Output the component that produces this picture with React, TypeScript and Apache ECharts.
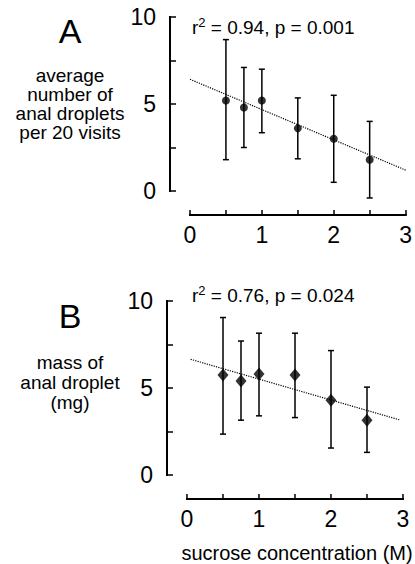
import React, { useEffect, useRef } from "react";
import * as echarts from "echarts";

const FONT = "'Liberation Sans', Arial, Helvetica, sans-serif";

// Panel A: average number of anal droplets per 20 visits
const concA = [0.5, 0.75, 1, 1.5, 2, 2.5];
const meanA = [5.2, 4.8, 5.2, 3.6, 3.0, 1.8];
const lowA = [1.8, 2.5, 3.35, 1.85, 0.5, -0.4];
const highA = [8.7, 7.1, 7.0, 5.35, 5.5, 4.0];
const trendAX = [0, 3];
const trendAY = [6.42, 1.2];

// Panel B: mass of anal droplet (mg)
const concB = [0.5, 0.75, 1, 1.5, 2, 2.5];
const meanB = [5.75, 5.4, 5.8, 5.75, 4.3, 3.15];
const lowB = [2.35, 3.15, 3.4, 3.3, 1.55, 1.3];
const highB = [9.05, 7.7, 8.15, 8.15, 7.15, 5.05];
const trendBX = [0.05, 2.95];
const trendBY = [6.65, 3.17];

const yTicks = [0, 5, 10];
const xTicks = [0, 1, 2, 3];

const labelA = ["average", "number of", "anal droplets", "per 20 visits"];
const labelB = ["mass of", "anal droplet", "(mg)"];

const X_OFFSET = 24;
const Y_OFFSET = 20;

function errSeries(xs: number[], lo: number[], hi: number[], gi: number) {
  return {
    type: "custom",
    xAxisIndex: gi,
    yAxisIndex: gi,
    clip: false,
    z: 2,
    data: xs.map((x, i) => [x, lo[i], hi[i]]),
    renderItem: (_p: any, api: any) => {
      const x = api.value(0);
      const top = api.coord([x, api.value(2)]);
      const bot = api.coord([x, api.value(1)]);
      const st = { stroke: "#000", lineWidth: 1.5 };
      const cw = 3;
      return {
        type: "group",
        children: [
          { type: "line", shape: { x1: top[0], y1: top[1], x2: bot[0], y2: bot[1] }, style: st },
          { type: "line", shape: { x1: top[0] - cw, y1: top[1], x2: top[0] + cw, y2: top[1] }, style: st },
          { type: "line", shape: { x1: bot[0] - cw, y1: bot[1], x2: bot[0] + cw, y2: bot[1] }, style: st },
        ],
      };
    },
  };
}

function xAxis(gi: number) {
  return {
    type: "value",
    gridIndex: gi,
    min: 0,
    max: 3,
    interval: 0.5,
    offset: X_OFFSET,
    axisLine: { show: true, onZero: false, lineStyle: { color: "#000", width: 2 } },
    axisTick: { show: true, inside: true, length: 5, lineStyle: { color: "#000", width: 1.5 } },
    splitLine: { show: false },
    axisLabel: {
      margin: 8,
      fontSize: 23,
      color: "#000",
      fontFamily: FONT,
      formatter: (v: number) => (xTicks.includes(v) ? String(v) : ""),
    },
  };
}

function yAxis(gi: number) {
  return {
    type: "value",
    gridIndex: gi,
    min: 0,
    max: 10,
    interval: 2.5,
    offset: Y_OFFSET,
    axisLine: { show: true, onZero: false, lineStyle: { color: "#000", width: 2 } },
    axisTick: { show: true, inside: true, length: 6, lineStyle: { color: "#000", width: 1.5 } },
    splitLine: { show: false },
    axisLabel: {
      margin: 14,
      fontSize: 23,
      color: "#000",
      fontFamily: FONT,
      formatter: (v: number) => (yTicks.includes(v) ? String(v) : ""),
    },
  };
}

function statText(txt: string, x: number, y: number) {
  return {
    type: "text",
    x,
    y,
    style: {
      text: "{a|r}{s|2}{a| = " + txt + "}",
      textVerticalAlign: "middle",
      textAlign: "left",
      fill: "#000",
      rich: {
        a: { fontSize: 19, fontFamily: FONT, color: "#000", lineHeight: 22 },
        s: { fontSize: 13, fontFamily: FONT, color: "#000", verticalAlign: "top", lineHeight: 20 },
      },
    },
  };
}

function lines(arr: string[], cx: number, y0: number, step: number) {
  return arr.map((t, i) => ({
    type: "text",
    x: cx,
    y: y0 + i * step,
    style: {
      text: t,
      font: `19px ${FONT}`,
      fill: "#000",
      textAlign: "center",
      textVerticalAlign: "middle",
    },
  }));
}

function axisRects(chart: any, gi: number) {
  const p0 = chart.convertToPixel({ gridIndex: gi }, [0, 0]);
  const pTop = chart.convertToPixel({ gridIndex: gi }, [0, 10]);
  const pRight = chart.convertToPixel({ gridIndex: gi }, [3, 0]);
  const yx = Math.round(p0[0] - Y_OFFSET);
  const xy = Math.round(p0[1] + X_OFFSET);
  const st = { fill: "#000" };
  return [
    { type: "rect", z: 100, shape: { x: yx - 1, y: pTop[1] - 1, width: 2, height: p0[1] - pTop[1] + 2 }, style: st },
    { type: "rect", z: 100, shape: { x: p0[0] - 1, y: xy - 1, width: pRight[0] - p0[0] + 2, height: 2 }, style: st },
  ];
}

export default function App() {
  const ref = useRef<HTMLDivElement>(null);
  useEffect(() => {
    if (!ref.current) return;
    const chart = echarts.init(ref.current, undefined, { renderer: "svg" });
    chart.setOption({
      animation: false,
      grid: [
        { left: 190, top: 17, width: 216, height: 174 },
        { left: 187, top: 301, width: 216, height: 174 },
      ],
      xAxis: [xAxis(0), xAxis(1)],
      yAxis: [yAxis(0), yAxis(1)],
      series: [
        {
          type: "line",
          xAxisIndex: 0,
          yAxisIndex: 0,
          data: trendAX.map((x, i) => [x, trendAY[i]]),
          showSymbol: false,
          symbol: "none",
          lineStyle: { color: "#000", width: 1.2, type: "dotted" },
          z: 1,
        },
        errSeries(concA, lowA, highA, 0),
        {
          type: "scatter",
          xAxisIndex: 0,
          yAxisIndex: 0,
          symbol: "circle",
          symbolSize: 8,
          itemStyle: { color: "#000" },
          data: concA.map((x, i) => [x, meanA[i]]),
          z: 3,
        },
        {
          type: "line",
          xAxisIndex: 1,
          yAxisIndex: 1,
          data: trendBX.map((x, i) => [x, trendBY[i]]),
          showSymbol: false,
          symbol: "none",
          lineStyle: { color: "#000", width: 1.2, type: "dotted" },
          z: 1,
        },
        errSeries(concB, lowB, highB, 1),
        {
          type: "scatter",
          xAxisIndex: 1,
          yAxisIndex: 1,
          symbol: "diamond",
          symbolSize: [11, 13],
          itemStyle: { color: "#000" },
          data: concB.map((x, i) => [x, meanB[i]]),
          z: 3,
        },
      ],
    });
    chart.setOption({
      graphic: [
        { type: "text", x: 70, y: 31, style: { text: "A", font: `34px ${FONT}`, fill: "#000", textAlign: "center", textVerticalAlign: "middle" } },
        ...lines(labelA, 70, 75, 19),
        statText("0.94, p = 0.001", 192, 27),
        { type: "text", x: 70, y: 316, style: { text: "B", font: `34px ${FONT}`, fill: "#000", textAlign: "center", textVerticalAlign: "middle" } },
        ...lines(labelB, 70, 362, 20),
        statText("0.76, p = 0.024", 192, 295),
        {
          type: "text",
          x: 297,
          y: 553,
          style: {
            text: "sucrose concentration (M)",
            font: `20px ${FONT}`,
            fill: "#000",
            textAlign: "center",
            textVerticalAlign: "middle",
          },
        },
        ...axisRects(chart, 0),
        ...axisRects(chart, 1),
      ],
    });
    return () => chart.dispose();
  }, []);
  return (
    <div
      ref={ref}
      style={{ position: "absolute", left: 0, top: 0, width: 415, height: 564, background: "#fff" }}
    />
  );
}
